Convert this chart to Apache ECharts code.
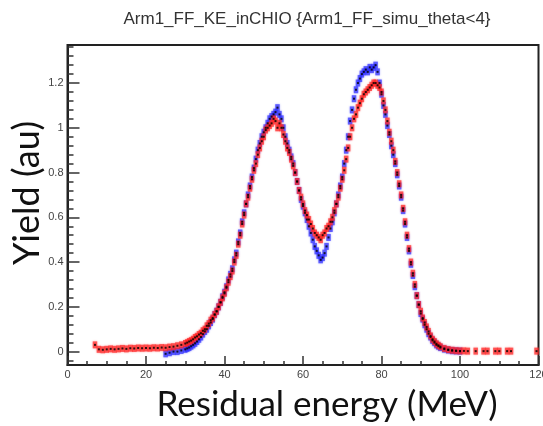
<!DOCTYPE html>
<html>
<head>
<meta charset="utf-8">
<script src="https://cdn.jsdelivr.net/npm/echarts@6/dist/echarts.min.js"></script>
<style>
  html, body { margin: 0; padding: 0; background: #fff; }
  #chart { width: 543px; height: 426px; }
</style>
</head>
<body>
<div id="chart"></div>
<script>
// Residual energy spectra (MeV) of the two histograms.
const energyRed = [7, 8, 9, 10, 11, 12, 13, 14, 15, 16, 17, 18, 19, 20, 21, 22, 23, 24, 25, 26, 27, 28, 29,
  30, 30.5, 31, 31.5, 32, 32.5, 33, 33.5, 34, 34.5, 35, 35.5, 36, 36.5, 37, 37.5, 38, 38.5, 39, 39.5,
  40, 40.5, 41, 41.5, 42, 42.5, 43, 43.5, 44, 44.5, 45, 45.5, 46, 46.5, 47, 47.5, 48, 48.5, 49, 49.5,
  50, 50.5, 51, 51.5, 52, 52.5, 53, 53.5, 54, 54.5, 55, 55.5, 56, 56.5, 57, 57.5, 58, 58.5, 59, 59.5,
  60, 60.5, 61, 61.5, 62, 62.5, 63, 63.5, 64, 64.5, 65, 65.5, 66, 66.5, 67, 67.5, 68, 68.5, 69, 69.5,
  70, 70.5, 71, 71.5, 72, 72.5, 73, 73.5, 74, 74.5, 75, 75.5, 76, 76.5, 77, 77.5, 78, 78.5, 79, 79.5,
  80, 80.5, 81, 81.5, 82, 82.5, 83, 83.5, 84, 84.5, 85, 85.5, 86, 86.5, 87, 87.5, 88, 88.5, 89, 89.5,
  90, 90.5, 91, 91.5, 92, 92.5, 93, 93.5, 94, 94.5, 95,
  96, 97, 98, 99, 100, 101, 102, 104, 106, 107, 109, 110, 112, 113, 119.5];
const yieldRed = [0.03, 0.01, 0.008, 0.01, 0.012, 0.01, 0.012, 0.014, 0.012, 0.015, 0.014, 0.016, 0.015, 0.016,
  0.015, 0.017, 0.016, 0.018, 0.017, 0.02, 0.022, 0.026, 0.03,
  0.036, 0.04, 0.045, 0.049, 0.055, 0.063, 0.068, 0.076, 0.082, 0.093, 0.1, 0.115, 0.125, 0.14, 0.15, 0.166, 0.18, 0.2, 0.22, 0.24,
  0.26, 0.285, 0.31, 0.335, 0.36, 0.4, 0.43, 0.48, 0.52, 0.57, 0.61, 0.66, 0.69, 0.73, 0.77, 0.81, 0.84, 0.88, 0.91, 0.94,
  0.96, 0.99, 1.0, 1.01, 1.02, 1.04, 1.03, 1.0, 1.02, 1.0, 0.97, 0.94, 0.91, 0.89, 0.86, 0.83, 0.8, 0.76, 0.72, 0.69,
  0.66, 0.63, 0.61, 0.59, 0.57, 0.55, 0.53, 0.52, 0.51, 0.5, 0.52, 0.53, 0.55, 0.56, 0.58, 0.6, 0.63, 0.66, 0.69, 0.73,
  0.77, 0.81, 0.86, 0.91, 0.96, 1.0, 1.04, 1.06, 1.09, 1.11, 1.13, 1.15, 1.16, 1.17, 1.18, 1.19, 1.2, 1.2, 1.19, 1.18,
  1.16, 1.12, 1.08, 1.03, 0.98, 0.94, 0.9, 0.85, 0.8, 0.75, 0.7, 0.64, 0.58, 0.52, 0.46, 0.4, 0.35, 0.3, 0.25, 0.21,
  0.18, 0.15, 0.13, 0.11, 0.09, 0.07, 0.055, 0.045, 0.035, 0.028, 0.022,
  0.014, 0.009, 0.006, 0.004, 0.003, 0.003, 0.002, 0.002, 0.002, 0.002, 0.002, 0.002, 0.002, 0.002, 0.002];

const energyBlue = [25, 26, 27, 28, 29,
  30, 30.5, 31, 31.5, 32, 32.5, 33, 33.5, 34, 34.5, 35, 35.5, 36, 36.5, 37, 37.5, 38, 38.5, 39, 39.5,
  40, 40.5, 41, 41.5, 42, 42.5, 43, 43.5, 44, 44.5, 45, 45.5, 46, 46.5, 47, 47.5, 48, 48.5, 49, 49.5,
  50, 50.5, 51, 51.5, 52, 52.5, 53, 53.5, 54, 54.5, 55, 55.5, 56, 56.5, 57, 57.5, 58, 58.5, 59, 59.5,
  60, 60.5, 61, 61.5, 62, 62.5, 63, 63.5, 64, 64.5, 65, 65.5, 66, 66.5, 67, 67.5, 68, 68.5, 69, 69.5,
  70, 70.5, 71, 71.5, 72, 72.5, 73, 73.5, 74, 74.5, 75, 75.5, 76, 76.5, 77, 77.5, 78, 78.5, 79, 79.5,
  80, 80.5, 81, 81.5, 82, 82.5, 83, 83.5, 84, 84.5, 85, 85.5, 86, 86.5, 87, 87.5, 88, 88.5, 89, 89.5,
  90, 90.5, 91, 91.5, 92, 92.5, 93, 93.5, 94, 94.5, 95,
  96, 97, 98, 99, 100];
const yieldBlue = [-0.01, -0.005, 0.0, 0.0, 0.005,
  0.01, 0.014, 0.018, 0.024, 0.03, 0.037, 0.045, 0.055, 0.065, 0.078, 0.09, 0.1, 0.115, 0.13, 0.145, 0.165, 0.18, 0.2, 0.22, 0.245,
  0.265, 0.29, 0.32, 0.345, 0.37, 0.41, 0.44, 0.49, 0.53, 0.58, 0.62, 0.66, 0.7, 0.74, 0.78, 0.82, 0.86, 0.9, 0.93, 0.96,
  0.98, 1.0, 1.02, 1.04, 1.05, 1.06, 1.07, 1.09, 1.06, 1.04, 1.0, 0.96, 0.93, 0.9, 0.87, 0.84, 0.8, 0.76, 0.72, 0.68,
  0.65, 0.62, 0.59, 0.56, 0.53, 0.5, 0.47, 0.45, 0.43, 0.41, 0.42, 0.44, 0.47, 0.51, 0.55, 0.58, 0.62, 0.66, 0.7, 0.74,
  0.78, 0.84, 0.9, 0.96, 1.03, 1.08, 1.13, 1.17, 1.2, 1.22, 1.24, 1.25, 1.26, 1.25, 1.27, 1.26, 1.27, 1.28, 1.25, 1.2,
  1.15, 1.1, 1.06, 1.01, 0.97, 0.92, 0.88, 0.84, 0.79, 0.74, 0.69, 0.63, 0.57, 0.51, 0.45, 0.39, 0.34, 0.29, 0.25, 0.21,
  0.17, 0.145, 0.12, 0.1, 0.08, 0.065, 0.05, 0.04, 0.03, 0.024, 0.018,
  0.011, 0.007, 0.004, 0.003, 0.002];

// Axis tick labels
const xTickLabels = [0, 20, 40, 60, 80, 100, 120];
const yTickLabels = [0, 0.2, 0.4, 0.6, 0.8, 1, 1.2];

const X_MIN = 0, X_MAX = 120;
const Y_MIN = -0.06, Y_MAX = 1.37;

const zip = (xs, ys) => xs.map((x, i) => [x, ys[i]]);
const redPoints = zip(energyRed, yieldRed);
const bluePoints = zip(energyBlue, yieldBlue);

// minor y ticks every 0.04
const yMinor = [];
for (let k = -1; k <= 34; k++) yMinor.push(Math.round(k * 4) / 100);

const labelFont = { fontFamily: 'Liberation Sans', fontSize: 11, color: '#444' };
const tickLine = { color: '#333', width: 1.5 };

const chart = echarts.init(document.getElementById('chart'), null, { renderer: 'canvas' });
chart.setOption({
  backgroundColor: '#ffffff',
  animation: false,
  title: {
    text: 'Arm1_FF_KE_inCHIO {Arm1_FF_simu_theta<4}',
    left: 302, top: 6, textAlign: 'center',
    textStyle: { fontFamily: 'Liberation Sans', fontSize: 17, fontWeight: 'normal', color: '#333' }
  },
  grid: {
    left: 67.5, right: 4.5, top: 45, bottom: 61,
    containLabel: false, outerBoundsMode: 'none',
    show: true, borderColor: '#222', borderWidth: 2
  },
  graphic: [
    {
      type: 'text', x: 27, y: 193, rotation: Math.PI / 2,
      style: { text: 'Yield (au)', font: '36px Lato', fill: '#111', align: 'center', verticalAlign: 'middle' }
    },
    {
      type: 'text', x: 327, y: 405,
      style: { text: 'Residual energy (MeV)', font: '35px Lato', fill: '#111', align: 'center', verticalAlign: 'middle' }
    }
  ],
  xAxis: {
    type: 'value', min: X_MIN, max: X_MAX, interval: 20,
    axisLine: { show: true, onZero: false, lineStyle: { color: '#222', width: 2 } },
    axisTick: { show: true, inside: true, length: 9, lineStyle: tickLine, customValues: xTickLabels },
    minorTick: { show: true, splitNumber: 4, length: 4, lineStyle: tickLine },
    axisLabel: Object.assign({ margin: 4, customValues: xTickLabels }, labelFont),
    splitLine: { show: false }
  },
  yAxis: [{
    type: 'value', min: Y_MIN, max: Y_MAX,
    axisLine: { show: true, onZero: false, lineStyle: { color: '#222', width: 2 } },
    axisTick: { show: true, inside: true, length: 12, lineStyle: tickLine, customValues: yTickLabels },
    axisLabel: Object.assign({ margin: 4, customValues: yTickLabels }, labelFont),
    splitLine: { show: false }
  }, {
    type: 'value', min: Y_MIN, max: Y_MAX, position: 'left', offset: 0,
    axisLine: { show: false },
    axisTick: { show: true, inside: true, length: 6, lineStyle: tickLine, customValues: yMinor },
    axisLabel: { show: false, customValues: yMinor },
    splitLine: { show: false }
  }],
  series: [
    {
      name: 'blue', type: 'scatter', data: bluePoints, symbol: 'rect', symbolSize: [4.5, 7],
      itemStyle: { color: 'rgba(45,45,255,0.85)', shadowBlur: 2, shadowColor: 'rgba(45,45,255,0.6)' }, z: 2
    },
    {
      name: 'red', type: 'scatter', data: redPoints, symbol: 'rect', symbolSize: [4.5, 7],
      itemStyle: { color: 'rgba(255,35,35,0.85)', shadowBlur: 2, shadowColor: 'rgba(255,35,35,0.6)' }, z: 3
    },
    {
      name: 'blueMarkers', type: 'scatter', data: bluePoints, symbol: 'rect', symbolSize: 2,
      itemStyle: { color: '#000' }, z: 4
    },
    {
      name: 'redMarkers', type: 'scatter', data: redPoints, symbol: 'rect', symbolSize: 2,
      itemStyle: { color: '#000' }, z: 4
    }
  ]
});
</script>
</body>
</html>
